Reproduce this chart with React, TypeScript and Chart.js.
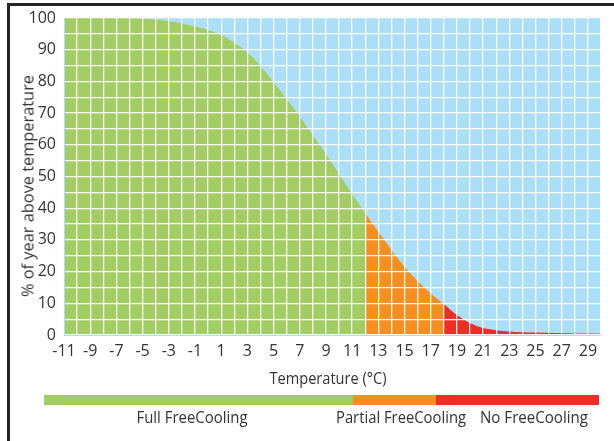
import React, { useEffect, useRef } from "react";
import { Chart, registerables } from "chart.js";

Chart.register(...registerables);

const temperatures = [-11, -10, -9, -8, -7, -6, -5, -4, -3, -2, -1, 0, 1, 2, 3, 4, 5, 6, 7, 8, 9, 10, 11, 12, 13, 14, 15, 16, 17, 18, 19, 20, 21, 22, 23, 24, 25, 26, 27, 28, 29, 30];
const percentAbove = [100, 100, 100, 100, 100, 99.9, 99.8, 99.5, 99.0, 98.3, 97.3, 96.2, 94.6, 92.2, 89.2, 84.8, 79.8, 74.4, 69.0, 63.0, 57.1, 50.8, 44.5, 38.4, 32.6, 26.9, 21.5, 17.0, 13.1, 9.8, 6.3, 3.8, 2.2, 1.5, 1.1, 0.9, 0.8, 0.7, 0.6, 0.5, 0.45, 0.4];

const partialStart = 12;
const noCoolingStart = 18;

const zoneLabels = ["Full FreeCooling", "Partial FreeCooling", "No FreeCooling"];
const zoneColors = ["#a1cd63", "#f68f1f", "#ee2e25"];
const xTitle = "Temperature (°C)";
const yTitle = "% of year above temperature";

const FONT = "'Open Sans', 'Noto Sans', sans-serif";
const TEXT = "#333333";
const SKY = "#abdff7";

function points(lo: number, hi: number) {
  const out: { x: number; y: number }[] = [];
  temperatures.forEach((t, i) => {
    if (t >= lo && t <= hi) out.push({ x: t, y: percentAbove[i] });
  });
  return out;
}

const bgPlugin = {
  id: "skyBg",
  beforeDraw(chart: any) {
    const { ctx, chartArea } = chart;
    ctx.save();
    ctx.fillStyle = SKY;
    ctx.fillRect(chartArea.left, chartArea.top, chartArea.right - chartArea.left, chartArea.bottom - chartArea.top);
    ctx.restore();
  },
};

let measureCtx: CanvasRenderingContext2D | null = null;
function textWidth(text: string, size: number) {
  if (!measureCtx) measureCtx = document.createElement("canvas").getContext("2d");
  if (!measureCtx) return 1;
  measureCtx.font = `${size}px ${FONT}`;
  return measureCtx.measureText(text).width || 1;
}

function FitText(props: { text: string; cx: number; cy: number; width: number; size: number; rotate?: boolean }) {
  const { text, cx, cy, width, size, rotate } = props;
  const sx = width / textWidth(text, size);
  return (
    <div
      style={{
        position: "absolute",
        left: cx,
        top: cy,
        fontFamily: FONT,
        fontSize: size,
        color: TEXT,
        whiteSpace: "nowrap",
        lineHeight: `${size + 4}px`,
        transform: `translate(-50%, -50%)${rotate ? " rotate(-90deg)" : ""} scaleX(${sx})`,
      }}
    >
      {text}
    </div>
  );
}

export default function App() {
  const ref = useRef<HTMLCanvasElement | null>(null);

  useEffect(() => {
    if (!ref.current) return;
    const ranges: [number, number][] = [
      [-Infinity, partialStart],
      [partialStart, noCoolingStart],
      [noCoolingStart, Infinity],
    ];
    const gridOpts = { color: "rgba(255,255,255,0.95)", lineWidth: 1.3, drawTicks: false, z: 1 };
    const chart = new Chart(ref.current, {
      type: "line",
      data: {
        datasets: ranges.map((r, i) => ({
          label: zoneLabels[i],
          data: points(r[0], r[1]),
          backgroundColor: zoneColors[i],
          borderColor: zoneColors[i],
          borderWidth: 0,
          pointRadius: 0,
          fill: "origin",
          cubicInterpolationMode: "monotone" as const,
        })),
      },
      options: {
        animation: false,
        responsive: false,
        devicePixelRatio: 1,
        layout: { padding: { left: 0, top: 18, right: 13, bottom: 0 } },
        plugins: { legend: { display: false }, tooltip: { enabled: false } },
        scales: {
          x: {
            type: "linear",
            min: -11,
            max: 30,
            afterFit: (s: any) => {
              s.height = 106;
            },
            border: { display: true, color: SKY, width: 1, z: 2 },
            grid: gridOpts,
            ticks: {
              stepSize: 1,
              autoSkip: false,
              maxRotation: 0,
              padding: 7,
              color: TEXT,
              font: { family: FONT, size: 16 },
              callback: (v: any) => (Math.abs(Number(v)) % 2 === 1 ? String(v) : ""),
            },
          },
          y: {
            min: 0,
            max: 100,
            afterFit: (s: any) => {
              s.width = 64;
            },
            border: { display: true, color: SKY, width: 1, z: 2 },
            grid: gridOpts,
            ticks: {
              stepSize: 5,
              autoSkip: false,
              padding: 8,
              color: TEXT,
              font: { family: FONT, size: 16 },
              callback: (v: any) => (Number(v) % 10 === 0 ? String(v) : ""),
            },
          },
        },
      },
      plugins: [bgPlugin],
    });
    return () => chart.destroy();
  }, []);

  return (
    <div style={{ position: "fixed", left: 0, top: 0, width: 614, height: 441, background: "#fff", overflow: "hidden" }}>
      <div style={{ position: "absolute", left: 7, top: 3, width: 607, height: 3, background: "#242424" }} />
      <div style={{ position: "absolute", left: 7, top: 3, width: 3, height: 438, background: "#242424" }} />
      <canvas ref={ref} width={614} height={441} style={{ position: "absolute", left: 0, top: 0, width: 614, height: 441 }} />
      <FitText text={yTitle} cx={27} cy={186} width={222} size={17} rotate />
      <FitText text={xTitle} cx={328} cy={377} width={117} size={17} />
      <div style={{ position: "absolute", left: 44, top: 395, width: 309, height: 10, background: zoneColors[0] }} />
      <div style={{ position: "absolute", left: 353, top: 395, width: 83, height: 10, background: zoneColors[1] }} />
      <div style={{ position: "absolute", left: 436, top: 395, width: 163, height: 10, background: zoneColors[2] }} />
      <FitText text={zoneLabels[0]} cx={192} cy={416} width={111} size={17} />
      <FitText text={zoneLabels[1]} cx={401} cy={416} width={130} size={17} />
      <FitText text={zoneLabels[2]} cx={534} cy={416} width={108} size={17} />
    </div>
  );
}
